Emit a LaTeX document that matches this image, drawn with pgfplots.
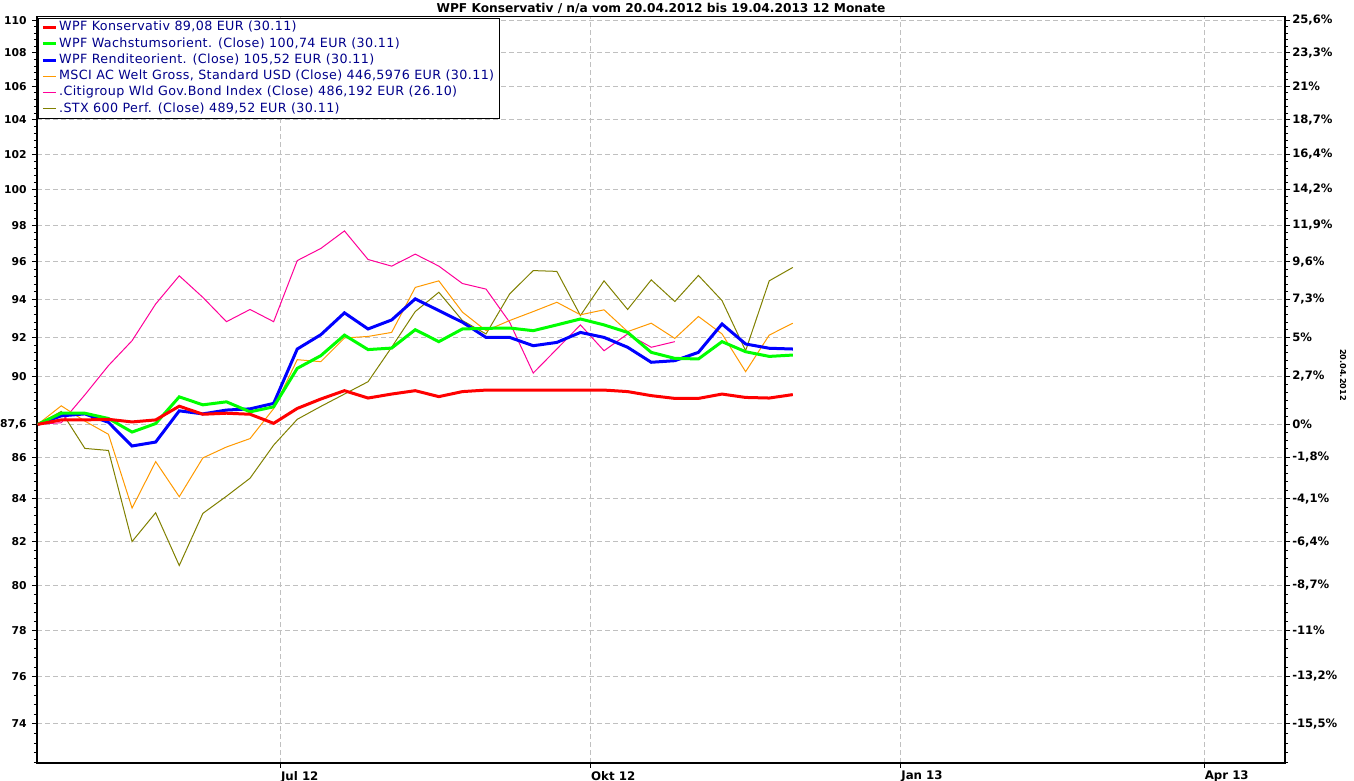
\documentclass[border=0pt]{standalone}
\usepackage{pgfplots}
\pgfplotsset{compat=1.18}
\usepackage{fontspec}
\setmainfont{DejaVu Sans}
\newfontfamily\legfont[LetterSpace=3]{DejaVu Sans}
\definecolor{cKons}{RGB}{255,0,0}
\definecolor{cWachs}{RGB}{0,255,0}
\definecolor{cRend}{RGB}{0,0,255}
\definecolor{cMSCI}{RGB}{255,153,0}
\definecolor{cCiti}{RGB}{255,0,153}
\definecolor{cSTX}{RGB}{128,128,0}
\definecolor{cLeg}{RGB}{0,0,139}
\definecolor{cGrid}{RGB}{192,192,192}

\pgfplotstableread{
x y
0 87.60
7 87.82
14 87.82
21 87.85
28 87.72
35 87.82
42 88.50
49 88.10
56 88.15
63 88.10
70 87.65
77 88.39
84 88.86
91 89.28
98 88.91
105 89.11
112 89.28
119 88.98
126 89.23
133 89.31
140 89.31
147 89.31
154 89.31
161 89.31
168 89.31
175 89.23
182 89.03
189 88.89
196 88.89
203 89.11
210 88.94
217 88.91
224 89.08
}\tKons

\pgfplotstableread{
x y
0 87.60
7 88.15
14 88.15
21 87.89
28 87.22
35 87.64
42 88.97
49 88.57
56 88.72
63 88.22
70 88.47
77 90.41
84 91.06
91 92.12
98 91.37
105 91.45
112 92.40
119 91.78
126 92.44
133 92.47
140 92.49
147 92.35
154 92.65
161 92.96
168 92.65
175 92.26
182 91.23
189 90.92
196 90.89
203 91.78
210 91.26
217 91.02
224 91.09
}\tWachs

\pgfplotstableread{
x y
0 87.60
7 88.02
14 88.12
21 87.70
28 86.54
35 86.73
42 88.27
49 88.12
56 88.31
63 88.37
70 88.64
77 91.40
84 92.14
91 93.28
98 92.44
105 92.91
112 94.02
119 93.40
126 92.79
133 92.00
140 92.00
147 91.57
154 91.74
161 92.26
168 92.00
175 91.49
182 90.72
189 90.80
196 91.23
203 92.70
210 91.66
217 91.44
224 91.40
}\tRend

\pgfplotstableread{
x y
0 87.60
7 88.52
14 87.76
21 87.11
28 83.56
35 85.78
42 84.10
49 85.96
56 86.49
63 86.90
70 88.38
77 90.85
84 90.75
91 91.97
98 92.05
105 92.26
112 94.63
119 94.98
126 93.32
133 92.35
140 92.88
147 93.35
154 93.84
161 93.18
168 93.44
175 92.30
182 92.74
189 91.95
196 93.09
203 92.18
210 90.24
217 92.12
224 92.74
}\tMSCI

\pgfplotstableread{
x y
0 87.60
7 87.68
14 89.07
21 90.55
28 91.83
35 93.75
42 95.25
49 94.10
56 92.82
63 93.46
70 92.82
77 96.07
84 96.73
91 97.69
98 96.13
105 95.77
112 96.42
119 95.77
126 94.84
133 94.54
140 92.79
147 90.17
154 91.40
161 92.65
168 91.31
175 92.18
182 91.49
189 91.78
}\tCiti

\pgfplotstableread{
x y
0 87.60
7 88.24
14 86.42
21 86.32
28 82.00
35 83.34
42 80.90
49 83.31
56 84.12
63 84.98
70 86.58
77 87.85
84 88.49
91 89.11
98 89.73
105 91.49
112 93.35
119 94.37
126 92.88
133 92.18
140 94.28
147 95.53
154 95.49
161 93.14
168 94.98
175 93.46
182 95.03
189 93.88
196 95.27
203 93.93
210 91.31
217 94.98
224 95.70
}\tSTX

\begin{document}
\begin{tikzpicture}
\useasboundingbox (-18.5pt,-9pt) rectangle (658.5pt,381.5pt);
\begin{axis}[
  at={(0,0)}, anchor=south west,
  scale only axis, width=624pt, height=373pt,
  xmin=-0.2, xmax=370,
  ymode=log, ymin=72.39, ymax=110.22,
  axis line style={black, line width=0.6pt},
  xtick={72,164,256,346},
  xticklabels={Jul 12,Okt 12,Jan 13,Apr 13},
  xticklabel style={font=\fontsize{5.9}{6}\selectfont\bfseries, anchor=north west, xshift=-3.2pt, yshift=1.9pt},
  ytick={74,76,78,80,82,84,86,87.6,90,92,94,96,98,100,102,104,106,108,110},
  yticklabels={74,76,78,80,82,84,86,{87,6},90,92,94,96,98,100,102,104,106,108,110},
  minor ytick={72.4,72.8,73.2,73.6,74.4,74.8,75.2,75.6,76.4,76.8,77.2,77.6,78.4,78.8,79.2,79.6,80.4,80.8,81.2,81.6,82.4,82.8,83.2,83.6,84.4,84.8,85.2,85.6,86.4,86.8,87.2,88,88.4,88.8,89.2,89.6,90.4,90.8,91.2,91.6,92.4,92.8,93.2,93.6,94.4,94.8,95.2,95.6,96.4,96.8,97.2,97.6,98.4,98.8,99.2,99.6,100.4,100.8,101.2,101.6,102.4,102.8,103.2,103.6,104.4,104.8,105.2,105.6,106.4,106.8,107.2,107.6,108.4,108.8,109.2,109.6},
  yticklabel style={font=\fontsize{5.4}{6}\selectfont\bfseries, xshift=0.9pt},
  tick align=outside, tick pos=left,
  major tick length=2.5pt, minor tick length=1.5pt,
  tick style={black, line width=0.5pt},
  xmajorgrids, ymajorgrids,
  major grid style={cGrid, line width=0.5pt, dash pattern=on 2.5pt off 1.5pt},
  every axis title shift=0pt,
  title={WPF Konservativ / n/a vom 20.04.2012 bis 19.04.2013 12 Monate},
  title style={font=\fontsize{6.1}{7}\selectfont\bfseries, at={(0.5,1)}, anchor=base, yshift=2.2pt},
  legend cell align=left,
  legend style={at={(0,1)}, anchor=north west, xshift=0.5pt, yshift=-0.5pt,
    draw=black, line width=0.5pt, fill=white,
    font=\legfont\fontsize{6.35}{7}\selectfont, text=cLeg,
    inner xsep=1.4pt, inner ysep=0.5pt, row sep=0pt,
    nodes={text height=4.6pt, text depth=1.4pt, inner ysep=1.07pt, inner xsep=1pt}},
  legend image code/.code={\draw[#1] (0pt,0pt) -- (6.4pt,0pt);},
]
\addlegendimage{cKons, line width=1.5pt}
\addlegendentry{WPF Konservativ 89,08 EUR (30.11)}
\addlegendimage{cWachs, line width=1.5pt}
\addlegendentry{WPF Wachstumsorient. (Close) 100,74 EUR (30.11)}
\addlegendimage{cRend, line width=1.5pt}
\addlegendentry{WPF Renditeorient. (Close) 105,52 EUR (30.11)}
\addlegendimage{cMSCI, line width=0.5pt}
\addlegendentry{MSCI AC Welt Gross, Standard USD (Close) 446,5976 EUR (30.11)}
\addlegendimage{cCiti, line width=0.5pt}
\addlegendentry{.Citigroup Wld Gov.Bond Index (Close) 486,192 EUR (26.10)}
\addlegendimage{cSTX, line width=0.5pt}
\addlegendentry{.STX 600 Perf. (Close) 489,52 EUR (30.11)}

\addplot[cSTX, line width=0.5pt, forget plot] table[x=x,y=y] {\tSTX};
\addplot[cCiti, line width=0.5pt, forget plot] table[x=x,y=y] {\tCiti};
\addplot[cMSCI, line width=0.5pt, forget plot] table[x=x,y=y] {\tMSCI};
\addplot[cRend, line width=1.5pt, forget plot] table[x=x,y=y] {\tRend};
\addplot[cWachs, line width=1.5pt, forget plot] table[x=x,y=y] {\tWachs};
\addplot[cKons, line width=1.5pt, forget plot] table[x=x,y=y] {\tKons};
\end{axis}

\begin{axis}[
  at={(0,0)}, anchor=south west,
  scale only axis, width=624pt, height=373pt,
  xmin=-0.2, xmax=370,
  ymode=log, ymin=72.39, ymax=110.22,
  axis x line=none, axis y line*=right,
  axis line style={black, line width=0.6pt, -},
  ytick={74,76,78,80,82,84,86,87.6,90,92,94,96,98,100,102,104,106,108,110},
  yticklabels={{-15,5\%},{-13,2\%},{-11\%},{-8,7\%},{-6,4\%},{-4,1\%},{-1,8\%},{0\%},{2,7\%},{5\%},{7,3\%},{9,6\%},{11,9\%},{14,2\%},{16,4\%},{18,7\%},{21\%},{23,3\%},{25,6\%}},
  minor ytick={72.4,72.8,73.2,73.6,74.4,74.8,75.2,75.6,76.4,76.8,77.2,77.6,78.4,78.8,79.2,79.6,80.4,80.8,81.2,81.6,82.4,82.8,83.2,83.6,84.4,84.8,85.2,85.6,86.4,86.8,87.2,88,88.4,88.8,89.2,89.6,90.4,90.8,91.2,91.6,92.4,92.8,93.2,93.6,94.4,94.8,95.2,95.6,96.4,96.8,97.2,97.6,98.4,98.8,99.2,99.6,100.4,100.8,101.2,101.6,102.4,102.8,103.2,103.6,104.4,104.8,105.2,105.6,106.4,106.8,107.2,107.6,108.4,108.8,109.2,109.6},
  yticklabel style={font=\fontsize{5.8}{6}\selectfont\bfseries, anchor=west, xshift=-2.4pt},
  tick align=outside,
  major tick length=2.5pt, minor tick length=1.5pt,
  tick style={black, line width=0.5pt},
  ylabel={20.04.2012},
  ylabel style={font=\fontsize{4.1}{5}\selectfont\bfseries, at={(axis description cs:1.0465,0.52)}, anchor=center, rotate=180},
]
\addplot[draw=none] coordinates {(0,87.6)};
\end{axis}
\end{tikzpicture}
\end{document}
